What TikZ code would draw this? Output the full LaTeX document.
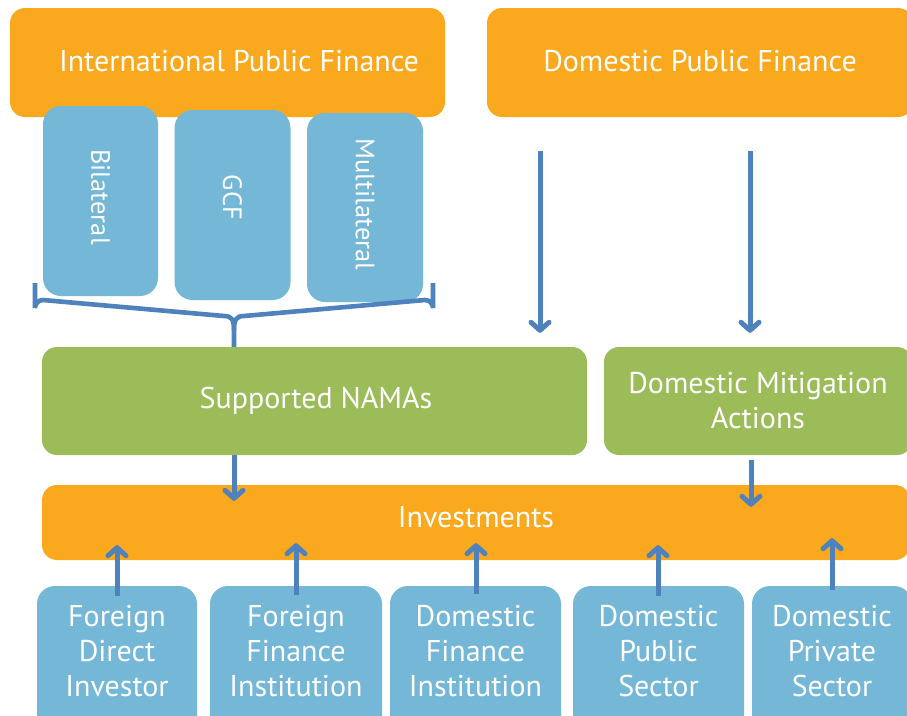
\documentclass[tikz,border=0pt]{standalone}
\usepackage{fontspec}
\setmainfont{PT Sans}
\usetikzlibrary{arrows.meta,calc}
\definecolor{orangebox}{RGB}{250,169,30}
\definecolor{bluebox}{RGB}{116,183,214}
\definecolor{greenbox}{RGB}{156,187,89}
\definecolor{arrowblue}{RGB}{79,129,189}
\tikzset{
  box/.style={draw=none,rounded corners=15pt,inner sep=0pt},
  obox/.style={box,fill=orangebox},
  bbox/.style={box,fill=bluebox,rounded corners=18pt},
  gbox/.style={box,fill=greenbox},
  txt/.style={text=white,font=\fontsize{30}{35}\selectfont,align=center,inner sep=0pt},
  rtxt/.style={txt,rotate=-90,font=\fontsize{26.5}{30}\selectfont},
  flow/.style={draw=arrowblue,line width=5pt,-{Straight Barb[length=8pt,width=18pt,round]}},
  bracestyle/.style={draw=arrowblue,line width=4.6pt}
}
\begin{document}
\begin{tikzpicture}[x=1pt,y=-1pt]
\useasboundingbox (0,0) rectangle (907,715);
\clip (0,0) rectangle (907,715);
\fill[white] (0,0) rectangle (907,715);
% top boxes
\node[obox,minimum width=435pt,minimum height=109pt] (ipf) at (227.5,62.5) {};
\node[txt] (ipft) at (239,61) {International Public Finance};
\node[obox,minimum width=426pt,minimum height=109pt] (dpf) at (700,62.5) {};
\node[txt] (dpft) at (700,61) {Domestic Public Finance};
% vertical blue boxes
\node[bbox,rotate=-90,minimum width=190pt,minimum height=115pt] (bil) at (100.5,201) {};
\node[rtxt] at (100.5,197) {Bilateral};
\node[bbox,rotate=-90,minimum width=190pt,minimum height=116pt] (gcf) at (232.5,205) {};
\node[rtxt] at (232.5,197.5) {GCF};
\node[bbox,rotate=-90,minimum width=189pt,minimum height=116pt] (mul) at (365,207.5) {};
\node[rtxt] at (365,204.5) {Multilateral};
% green boxes
\node[gbox,minimum width=545pt,minimum height=108pt] (nama) at (314.5,401) {};
\node[txt] at (316,401) {Supported NAMAs};
\node[gbox,minimum width=308pt,minimum height=108pt] (dma) at (758,401) {};
\node[txt] at (758,401) {Domestic Mitigation\\Actions};
% investments
\node[obox,minimum width=868pt,minimum height=75pt] (inv) at (476,522.5) {};
\node[txt] at (476,517) {Investments};
% bottom boxes
\node[bbox,minimum width=160pt,minimum height=150pt] (fdi) at (117,661) {};
\node[txt] at (117,651) {Foreign\\Direct\\Investor};
\node[bbox,minimum width=172pt,minimum height=150pt] (ffi) at (296,661) {};
\node[txt] at (296,651) {Foreign\\Finance\\Institution};
\node[bbox,minimum width=171pt,minimum height=150pt] (dfi) at (475.5,661) {};
\node[txt] at (475.5,651) {Domestic\\Finance\\Institution};
\node[bbox,minimum width=171pt,minimum height=150pt] (dps) at (658.5,661) {};
\node[txt] at (658.5,651) {Domestic\\Public\\Sector};
\node[bbox,minimum width=160pt,minimum height=150pt] (dpv) at (832,661) {};
\node[txt] at (832,651) {Domestic\\Private\\Sector};
% brace
\coordinate (bl) at (35,283);
\coordinate (br) at (433,283);
\coordinate (bm) at (nama.north -| 234,0);
\draw[bracestyle] (bl) -- (35,308) arc[start angle=180,end angle=90,radius=8pt] -- (224,316)
  .. controls (232,316) and (234,320) .. (234,330) -- (bm);
\draw[bracestyle] (br) -- (433,308) arc[start angle=0,end angle=90,radius=8pt] -- (244,316)
  .. controls (236,316) and (234,320) .. (234,330);
% arrows from domestic public finance
\draw[flow] ($(dpf.south)+(-160,34)$) -- ($(nama.north)+(225.5,-14)$);
\draw[flow] ($(dpf.south)+(50,34)$) -- ($(dma.north)+(-8,-14)$);
% arrows to investments
\draw[flow] (nama.south -| 234,0) -- ($(inv.north)+(-242,16)$);
\draw[flow] ($(dma.south)+(-7,5)$) -- ($(inv.north)+(275,22)$);
% up arrows
\draw[flow] ($(fdi.north)+(0,10)$) -- ($(inv.south)+(-359,-15)$);
\draw[flow] ($(ffi.north)+(0,9)$) -- ($(inv.south)+(-180,-17)$);
\draw[flow] ($(dfi.north)+(0.5,8)$) -- ($(inv.south)+(0,-17)$);
\draw[flow] ($(dps.north)+(-0.5,10)$) -- ($(inv.south)+(182,-15)$);
\draw[flow] ($(dpv.north)+(0,4)$) -- ($(inv.south)+(356,-22)$);
\end{tikzpicture}
\end{document}
